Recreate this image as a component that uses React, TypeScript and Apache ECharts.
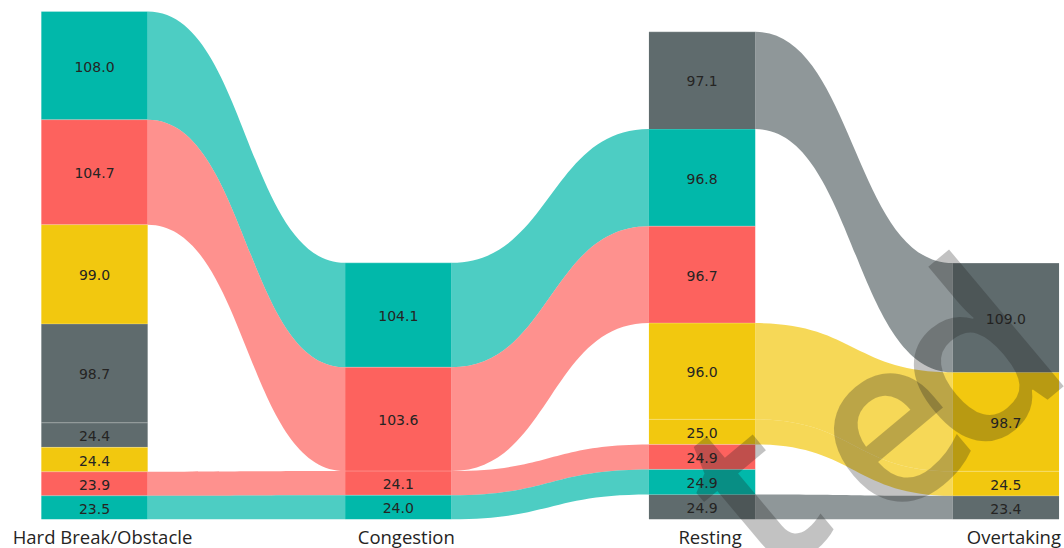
import React, { useEffect, useRef } from 'react';
import * as echarts from 'echarts';

// ---------------- data ----------------
const categories = ['Hard Break/Obstacle', 'Congestion', 'Resting', 'Overtaking'];
const seriesColors = ['#01B8AA', '#FD625E', '#F2C80F', '#5F6B6D', '#5F6B6D', '#F2C80F', '#FD625E', '#01B8AA'];
const tealMajor = [108.0, 104.1, 96.8, null];
const redMajor = [104.7, 103.6, 96.7, null];
const yellowMajor = [99.0, null, 96.0, 98.7];
const grayMajor = [98.7, null, 97.1, 109.0];
const grayMinor = [24.42, null, 24.86, 23.4];
const yellowMinor = [24.38, null, 25.0, 24.5];
const redMinor = [23.9, 24.1, 24.94, null];
const tealMinor = [23.5, 24.0, 24.9, null];
const seriesValues: (number | null)[][] = [
  tealMajor, redMajor, yellowMajor, grayMajor, grayMinor, yellowMinor, redMinor, tealMinor,
];

// ---------------- styles ----------------
const BAR_RATIO = 0.35;
const RIBBON_OPACITY = 0.7;
const LABEL_FONT = '14px "DejaVu Sans"';
const LABEL_COLOR = '#252423';
const WATERMARK_FONT = '600 235px "Open Sans"';
const WATERMARK_FILL = 'rgba(30,30,30,0.27)';
const WATERMARK_ROT = (40 * Math.PI) / 180;

// ---------------- layout in data space ----------------
type Seg = { y0: number; y1: number };
const segs: (Seg | null)[][] = seriesValues.map(() => categories.map(() => null));
categories.forEach((_, c) => {
  const present = seriesValues
    .map((vals, s) => ({ s, v: vals[c] }))
    .filter((d) => d.v !== null) as { s: number; v: number }[];
  present.sort((a, b) => a.v - b.v); // smallest at the bottom
  let acc = 0;
  present.forEach((d) => {
    segs[d.s][c] = { y0: acc, y1: acc + d.v };
    acc += d.v;
  });
});

const blockData: number[][] = [];
seriesValues.forEach((vals, s) => {
  vals.forEach((v, c) => {
    const sg = segs[s][c];
    if (sg && v !== null) blockData.push([c, sg.y0, sg.y1, s, v]);
  });
});

const ribbonData: number[][] = [];
seriesValues.forEach((_, s) => {
  for (let c = 0; c < categories.length - 1; c++) {
    const a = segs[s][c];
    const b = segs[s][c + 1];
    if (a && b) ribbonData.push([c, a.y0, a.y1, b.y0, b.y1, s]);
  }
});

const wmLetter = (text: string, x: number, y: number) => ({
  type: 'text',
  x,
  y,
  rotation: WATERMARK_ROT,
  z: 100,
  silent: true,
  style: {
    text,
    font: WATERMARK_FONT,
    fill: WATERMARK_FILL,
    align: 'center',
    verticalAlign: 'middle',
  },
});

export default function App() {
  const ref = useRef<HTMLDivElement>(null);
  useEffect(() => {
    if (!ref.current) return;
    const chart = echarts.init(ref.current, undefined, { renderer: 'svg' });
    const half = BAR_RATIO / 2;
    chart.setOption({
      animation: false,
      grid: { left: 94.5, right: 55.5, top: 8, bottom: 28.7 },
      xAxis: {
        type: 'value',
        min: 0,
        max: 3,
        interval: 1,
        axisLine: { show: false },
        axisTick: { show: false },
        splitLine: { show: false },
        axisLabel: {
          showMinLabel: true,
          showMaxLabel: true,
          formatter: (v: number) => categories[Math.round(v)] ?? '',
          fontFamily: '"Open Sans"',
          fontSize: 18.5,
          color: '#252423',
          margin: 8,
          padding: [0, 0, 0, 16],
        },
      },
      yAxis: { type: 'value', min: 0, max: 510, show: false },
      graphic: [wmLetter('t', 746, 487), wmLetter('e', 878, 418), wmLetter('d', 964, 351)],
      series: [
        {
          type: 'custom',
          name: 'ribbons',
          z: 1,
          data: ribbonData,
          renderItem: (params: any, api: any) => {
            const c = api.value(0);
            const a0 = api.value(1), a1 = api.value(2), b0 = api.value(3), b1 = api.value(4);
            const s = api.value(5);
            const pTopA = api.coord([c + half, a1]);
            const pBotA = api.coord([c + half, a0]);
            const pTopB = api.coord([c + 1 - half, b1]);
            const pBotB = api.coord([c + 1 - half, b0]);
            const xa = pTopA[0], xb = pTopB[0];
            const xm = (xa + xb) / 2;
            const d =
              `M${xa},${pTopA[1]} C${xm},${pTopA[1]} ${xm},${pTopB[1]} ${xb},${pTopB[1]} ` +
              `L${xb},${pBotB[1]} C${xm},${pBotB[1]} ${xm},${pBotA[1]} ${xa},${pBotA[1]} Z`;
            return {
              type: 'path',
              shape: { pathData: d },
              style: { fill: seriesColors[s], opacity: RIBBON_OPACITY },
            };
          },
        },
        {
          type: 'custom',
          name: 'blocks',
          z: 2,
          data: blockData,
          renderItem: (params: any, api: any) => {
            const c = api.value(0);
            const y0 = api.value(1), y1 = api.value(2);
            const s = api.value(3), v = api.value(4);
            const tl = api.coord([c - half, y1]);
            const br = api.coord([c + half, y0]);
            const w = br[0] - tl[0];
            const h = br[1] - tl[1];
            return {
              type: 'group',
              children: [
                {
                  type: 'rect',
                  shape: { x: tl[0], y: tl[1], width: w, height: h },
                  style: { fill: seriesColors[s] },
                },
                {
                  type: 'line',
                  shape: { x1: tl[0], y1: tl[1], x2: br[0], y2: tl[1] },
                  style: { stroke: 'rgba(255,255,255,0.25)', lineWidth: 1 },
                },
                {
                  type: 'text',
                  x: tl[0] + w / 2,
                  y: tl[1] + h / 2 + 1,
                  style: {
                    text: Number(v).toFixed(1),
                    font: LABEL_FONT,
                    fill: LABEL_COLOR,
                    align: 'center',
                    verticalAlign: 'middle',
                  },
                },
              ],
            };
          },
        },
      ],
    });
    return () => chart.dispose();
  }, []);
  return (
    <div
      ref={ref}
      style={{ position: 'fixed', left: 0, top: 0, width: 1064, height: 548, background: '#fff' }}
    />
  );
}
